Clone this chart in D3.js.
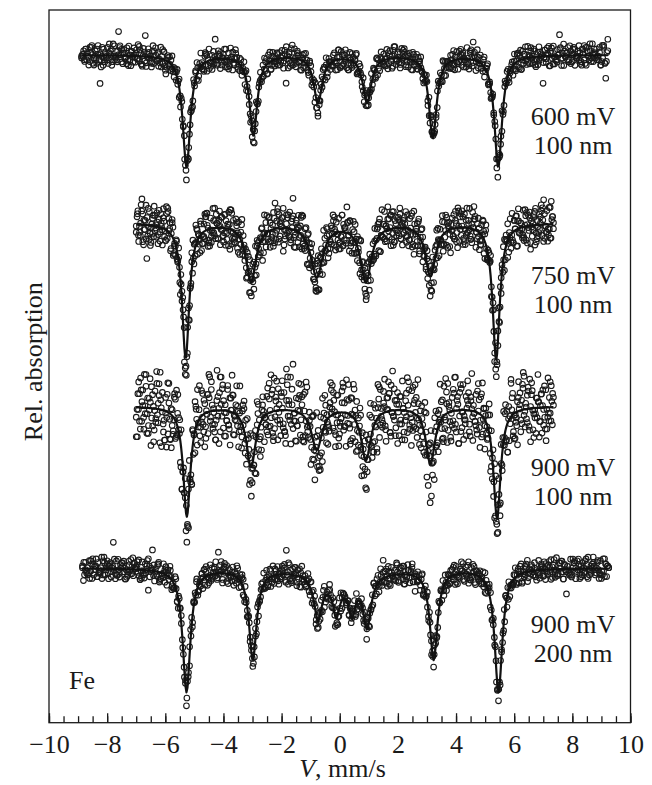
<!DOCTYPE html>
<html>
<head>
<meta charset="utf-8">
<title>Mössbauer spectra</title>
<script src="https://cdn.jsdelivr.net/npm/d3@7/dist/d3.min.js"></script>
<style>
  html, body { margin: 0; padding: 0; background: #fff; }
  svg { display: block; }
  text { font-family: "Liberation Serif", "Times New Roman", serif; fill: #1a1a1a; }
</style>
</head>
<body>
<svg id="chart" width="652" height="785"></svg>
<script>
// ---------------- data ----------------
const majorTicks = [-10, -8, -6, -4, -2, 0, 2, 4, 6, 8, 10];

// Residuals of each channel from the fit, one letter per channel:
// "a".."z" stand for -12.5..+12.5 scatter units (positive = less absorption).
// Two sweeps per spectrum (forward and return half of the velocity drive).

// Spectrum 1: 600 mV, 100 nm
const label600 = ["600 mV", "100 nm"];
const vel600 = [-8.88, 9.22];
const base600 = 93.7;
const pos600 = [-5.27, -2.97, -0.75, 0.94, 3.20, 5.45];
const depth600 = [15.7, 11.2, 6.6, 6.6, 11.6, 15.7];
const width600 = [0.32, 0.32, 0.35, 0.35, 0.32, 0.32];
const unit600 = 0.25;
const sweepA600 = [
  "lnpjqkmhrosilmkqnjpgrhlomkitnqjmslkphrnjoqlmiksnhpjrmoltkqihnpmj",
  "ormkhqjnslpimtokrjfnqlmpskiojrnhmqlptkjoinrmhslqkpjnuomiqrhktljpn",
  "kqmjrohlnpsimkqjtnhlorpkmjqinshrlmokpjqhntmiorlkjspqhmnikrojlqpm",
  "jnrklpmohqisujmnkrplhoqjmsnkirqhlpgmjtnkqlsriphmojnkqrlmhsoijpkn",
  "mqkhrnjplosikmqnjrhptlkomsjqnirhkmpolqjnshkrmoitpjlqnhkmrsojpiql",
  "nhqmkrjopslimknqhrjtpomlkisnqjhrmplokjqnishmrklopjqnmitkhrsjlpom",
  "pjmrknqhlosimjkrnqphltmoikjsnrqhlmpkojnqrishmkpljtonqmjrkhlispon",
  "kmqjrnhpolsimkqnjrhltpmokjsinqrhmlpkojqnsihrmkpltjonqmkrhjlsipon"
].join("");
const sweepB600 = [
  "mmkqoljrnhpisknmqjlrophtkmjnsqiolrhkpmnjqlsoirkhmpnjtqolmkisrhjp",
  "qjlnmokrhspikqmnljorthpmkjsqnilhromkpqjnlsihmorktpjqnlmohskirjmp",
  "lonjqmkhrsipmnkjqlohrtmpkjnsiqlmhorkpjqnmlsihkormptjqnlkmhosirjp",
  "sihokrmptjqnlkmkqnmjlohrpismknjqolhrtmpkjsnqilomhrkpjqnmlhosjirp",
  "pkjqnlmsihonmjqkolhrspimknjqolrhtpmkjsnqilhomrkrpmtjqnlkmohsirjp",
  "hrptmkjsnqilpkmnjqloshrimkjnqlohmorkpjnqlmsihokrpmtjnqlkmohsrijp"
].join("");
const outliers600 = [[-5.27, -1.77], [5.45, -1.47], [-0.75, -1.82], [-7.6, 3.37], [-6.7, 2.95],
  [-4.3, 2.8], [4.6, 2.52], [7.55, 2.95], [9.22, 2.24], [-8.24, -3.93], [-1.84, -3.5], [7.0, -3.79], [9.15, -3.23]];

// Spectrum 2: 750 mV, 100 nm
const label750 = ["750 mV", "100 nm"];
const vel750 = [-7.0, 7.35];
const base750 = 70.1;
const pos750 = [-5.30, -3.05, -0.79, 0.90, 3.12, 5.38];
const depth750 = [18.9, 8.1, 7.4, 8.1, 7.3, 19.1];
const width750 = [0.30, 0.42, 0.50, 0.45, 0.42, 0.30];
const unit750 = 0.43;
const sweepA750 = [
  "kprhmjtnqgloisjmrkhnpqtlmjoksirnhqpmjlktrohnsqimjpklrnhoqtsijmkp",
  "qhnlsjmpktrionhqmjlpkrsonjhqimtlkprojnshmqkilrpjnhotmskqjlrpihnm",
  "lsjqnkphrmotjinlqkshrpmjonqlhtkismrjpnkohqljmsirkpnqthjmolrksipq",
  "rkmhqnjolpsitmkjrnqhplosmjkqinrthlpmokjqnsrhimlkptjonqmkrjhlsipo",
  "ojnqmhrklpsimjkqnrhtlpomkjisnqrhlmpkojnqrishmklptjonqmkrhjlsipoq",
  "mqkrjnhplosikmjqnrhltpmokjsinqrhmlpkojqnsihrmkpltjonqmkrhjlsipon",
  "hnmqkrjpoltsimknqjrhptlomkjisnqrhmplokjqnsihrmklpotjnqmkrhjlsipo",
  "pkmrjqnhlosimkjqnrhptlmokjsinqrhmlpkojnqrshimklptjonqmkrhjlsiopn"
].join("");
const sweepB750 = [
  "mqjknrholtpsigmkjqnrhplomtkjsunqirhlmpkojqnrshgimklptjonqmkrhjls",
  "rshimklptjojpnqmkrhlosgtimkjqnrhpulomkjsinqrhmlpkojqfnnqmkrhjlsi",
  "lptjonqfmkrqmkjnrhlposimtkjqngrhplomkjsinqrhumlpkojqnrshimhjlsik",
  "nkqmrjhlpsoimktjqnrhplgomkjsinqrhmlpkojuqnrshimklptjonqmkrhjlsif",
  "inqrhmlpkojrmjqknhlposimktjqnrhplomkjsignqrshimklptjonuqmkrhjlsp",
  "ptjonqmkrhjlqmkjnrhposimktjqnrhplomkjsinqrhmlpgkojqnrshimklsiupl"
].join("");
const outliers750 = [[-5.30, -1.21], [-3.05, -1.93], [3.12, -2.75], [-0.79, -1.93], [-6.8, 3.63],
  [-5.95, 3.3], [-2.22, 3.63], [-1.62, 4.4], [0.25, 3.63], [1.45, 3.3], [7.0, 3.47], [-6.64, -4.68],
  [3.8, -3.3], [6.56, -3.3]];

// Spectrum 3: 900 mV, 100 nm
const label900a = ["900 mV", "100 nm"];
const vel900a = [-7.0, 7.35];
const base900a = 44.4;
const pos900a = [-5.26, -3.05, -0.79, 0.90, 3.12, 5.41];
const depth900a = [15.4, 8.4, 5.9, 7.4, 8.0, 15.7];
const width900a = [0.30, 0.38, 0.45, 0.40, 0.38, 0.30];
const unit900a = 0.55;
const sweepA900a = [
  "fmqtjhronkvlsgpimudkqnhrjwlotepsmjkfqnrhulgpoimtsjkvqnhrelpmoigj",
  "qumkfrjnhsovlpigtmkqejnrhwplsoimjfkuqnrhvltpgomksjieqnrhmlpukojv",
  "lgqnskrhumpojfitkmqnvrhjelpsogmkitjqnwrhfmlpuksojgqnirhemtlpkvjo",
  "tkmfqjnurhlpgsoimvkjqnerhtlpmwokgjsifnqurhmlkpvtojqnemkrghjlsuip",
  "jeqmukfrnhvlposgimtkjqnwrhfmlpuokgjsiqnevrhtmlkpojfqnurhgmklspio",
  "rmgqkjunhfplvosimektjqnrhwmlpgokjsiufnqrhvmlkeptojgqnmkrhujlsfip",
  "ngmqkrvjhpoeltsimfkjqnurhgpwlomkjisnqerhvmplokjqnsfihrmuklpotjgn",
  "kpumrjqfnhlvosimgkjeqnrhptwlmokjsiunqrhfmlpkvojnqgrishemklptjoqn"
].join("");
const sweepB900a = [
  "kfmqujrhnvlgposiemktjqwnrhfmlupgokjsivqnrhemltpkgojfqnurhmvklsip",
  "gmrqkujnhfplevosimgktjqnwrhmlpfokjsuinqrhvmlkgeptojfqnmkrhujlsgi",
  "qnfmkrujhgpvolesimkfjqnurhgtwlmokjsienqrhfmvplkogjqnusihrmeklptj",
  "mvkqjgrnuhflposeimktjqnwrhgmlfpukojsvinqrhtmlkgpeojqfnmkrhujlsip",
  "ujmqgkrnhvplfoseimtkjqnwrhgmlpuokfjsivnqerhmtlkgpojqnfmkrhujlsip",
  "fqmkujrnhgvlpoesimktjfqnwrhgmlpuokjsvinqrhetmlkgpofjqnmkrhujlsip"
].join("");
const outliers900a = [[-3.05, -4.08], [0.90, -3.85], [0.83, -2.77], [3.12, -5.39], [5.41, -2.08],
  [5.44, -2.54], [-0.77, -2.46], [-6.12, -5.16], [-5.95, -5.0], [-5.78, -4.62], [-4.23, 5.62],
  [-1.62, 6.55], [-1.82, 5.78], [1.82, 5.54], [-4.46, 4.85], [-2.25, 4.62], [3.63, 5.0]];

// Spectrum 4: 900 mV, 200 nm (sextet + central doublet and broad singlet)
const label900b = ["900 mV", "200 nm"];
const vel900b = [-8.85, 9.25];
const base900b = 21.7;
const pos900b = [-5.27, -2.99, -0.75, -0.12, 0.42, 0.94, 3.23, 5.46, 0.10];
const depth900b = [17.3, 12.6, 5.9, 4.2, 4.2, 7.0, 12.6, 17.3, 2.2];
const width900b = [0.32, 0.32, 0.32, 0.26, 0.26, 0.32, 0.32, 0.32, 1.8];
const unit900b = 0.25;
const sweepA900b = [
  "omjqlnkhrpsjmoiqklnhrtjmpkoqinlshrjmkpqolnhijrmsktqnopljhmrkiqns",
  "jpmnrkholqsijmknprhqltojmksnihqprlmjokqnhsriplmtkjnoqhripmlksjqn",
  "qlnkjmrohpsqinkmljrhpotmnqksijrlhmpoqnkjsirhmlqptknojmrhlsiqpkjn",
  "nkrmqjlohspikmrnjqlhptomkjnsqirhlmokpjqnrishmlkptojqnmrkhjlsiqpo",
  "lmpjqkrnohsimlkqnjrphtlomkisjnqrhmplokqjnsihrmkpltojqnmkrhjlspio",
  "rjmqnklphosimqnkjrlhpmtokjsnqirhlmkpojnqrshimlkptojnqmrhkjlsoipn",
  "mkqjnrlhpomsikjqnrhlmptokjisnqrhmlkpojnqirshmklptjonqmkrjhlsiopn",
  "jnqmkrlhopsimjknqrlhpmtokjsinqrhlmpkojqnrsihmlkptojnqmkrhjlspion"
].join("");
const sweepB900b = [
  "nqmkjrlhposimktjqnrhplomkjsinqrhmlpkojqnrshimklptjonqmkrhjlsipon",
  "rhjlsiponkmqjnrlhopsimkqnrshimklptjontjqnrhplomkjsinqrhmlpkojqnm",
  "plomkjsinqjmknrhlposimtkjqnrhqrhmlpkojqnrshimklptjonqmkrhjlsiopn",
  "kojqnrshimkmkjqnrhlpsoimktjqnrhplomkjsinqrhmlplptjonqmkrhjlsipon",
  "ptjonqmkrhjjqmknrhlposimktjqnrhplomkjsinqrhmlpkojqnrshimkllsipno",
  "inqrhmlpkojnmkqjrhlposimktjqnrhplomkjsqnrshimklptjonqmkrhjlsipon"
].join("");
const outliers900b = [[-5.27, -1.89], [3.23, -0.97], [5.46, -1.18], [-7.77, 3.74], [-1.84, 3.36],
  [1.5, 2.56], [-6.45, 2.94], [-4.18, 2.94], [7.8, -3.49], [-6.6, -2.77], [-8.82, -1.68], [2.6, -2.1]];

// ---------------- layout ----------------
const plot = { left: 49, right: 630.5, top: 10, bottom: 722.7 };
const labelX = 573;
const labelBaselines = [[124.5, 153.5], [284, 313], [476, 505], [633, 662]];
const ink = "#1a1a1a";

const zipLines = (p, d, w) => p.map((v, i) => ({ pos: v, depth: d[i], width: w[i] }));
const spectra = [
  { label: label600, range: vel600, base: base600, lines: zipLines(pos600, depth600, width600), sweeps: [sweepA600, sweepB600], unit: unit600, outliers: outliers600 },
  { label: label750, range: vel750, base: base750, lines: zipLines(pos750, depth750, width750), sweeps: [sweepA750, sweepB750], unit: unit750, outliers: outliers750 },
  { label: label900a, range: vel900a, base: base900a, lines: zipLines(pos900a, depth900a, width900a), sweeps: [sweepA900a, sweepB900a], unit: unit900a, outliers: outliers900a },
  { label: label900b, range: vel900b, base: base900b, lines: zipLines(pos900b, depth900b, width900b), sweeps: [sweepA900b, sweepB900b], unit: unit900b, outliers: outliers900b }
];

// letter code -> scatter units
const decode = ch => (ch.charCodeAt(0) - 97) - 12.5;

// sum of Lorentzian absorption lines
function absorption(v, lines) {
  return d3.sum(lines, l => l.depth / (1 + Math.pow((v - l.pos) / (l.width / 2), 2)));
}

// channel velocities, fitted curve and measured points of one sweep
function sweepPoints(s, codes, withOutliers) {
  const n = codes.length;
  const dv = (s.range[1] - s.range[0]) / (n - 1);
  const res = Array.from(codes, ch => decode(ch) * s.unit);
  if (withOutliers) {
    s.outliers.forEach(([vo, val]) => {
      const i = Math.round((vo - s.range[0]) / dv);
      if (i >= 0 && i < n) res[i] = val;
    });
  }
  return res.map((e, i) => {
    const v = s.range[0] + i * dv;
    const f = s.base - absorption(v, s.lines);
    return { v, fit: f, y: f + e };
  });
}

// ---------------- drawing ----------------
const svg = d3.select("#chart");
const x = d3.scaleLinear().domain([-10, 10]).range([plot.left, plot.right]);
const y = d3.scaleLinear().domain([0, 100]).range([plot.bottom, plot.top]);

// minor ticks every 0.5 mm/s
svg.append("g")
  .attr("transform", `translate(0,${plot.bottom})`)
  .call(d3.axisBottom(x).tickValues(d3.range(-10, 10.001, 0.5)).tickSizeInner(-6.5).tickSizeOuter(0).tickFormat(""))
  .call(g => g.select(".domain").remove())
  .call(g => g.selectAll("line").attr("stroke", ink).attr("stroke-width", 1.3));

// major ticks with labels
svg.append("g")
  .attr("transform", `translate(0,${plot.bottom})`)
  .call(d3.axisBottom(x).tickValues(majorTicks).tickSizeInner(-9.5).tickSizeOuter(0).tickPadding(0).tickFormat(d3.format("d")))
  .call(g => g.select(".domain").remove())
  .call(g => g.selectAll("line").attr("stroke", ink).attr("stroke-width", 1.3))
  .call(g => g.selectAll("text").attr("y", 30.6).attr("dy", null).style("font-size", "26px"));

// frame
svg.append("rect")
  .attr("x", x(-10)).attr("y", y(100))
  .attr("width", x(10) - x(-10)).attr("height", y(0) - y(100))
  .attr("fill", "none").attr("stroke", ink).attr("stroke-width", 1.3);

const line = d3.line().x(d => x(d.v)).y(d => y(d.fit));

spectra.forEach((s, k) => {
  const a = sweepPoints(s, s.sweeps[0], true);
  const b = sweepPoints(s, s.sweeps[1], false);
  const pts = a.concat(b);

  const g = svg.append("g");
  g.selectAll("circle").data(pts).join("circle")
    .attr("cx", d => x(d.v)).attr("cy", d => y(d.y)).attr("r", 2.8)
    .attr("fill", "none").attr("stroke", ink).attr("stroke-width", 1.1);
  g.append("path").datum(a)
    .attr("d", line).attr("fill", "none").attr("stroke", "#111")
    .attr("stroke-width", 2.2).attr("stroke-linejoin", "round");

  s.label.forEach((t, j) => {
    svg.append("text").attr("x", labelX).attr("y", labelBaselines[k][j])
      .attr("text-anchor", "middle").style("font-size", "26px").text(t);
  });
});

// sample element
svg.append("text").attr("x", 69).attr("y", 689).style("font-size", "26px").text("Fe");

// axis titles
const xt = svg.append("text").attr("x", 342.5).attr("y", 777)
  .attr("text-anchor", "middle").style("font-size", "26px");
xt.append("tspan").style("font-style", "italic").text("V");
xt.append("tspan").text(", mm/s");

svg.append("text")
  .attr("transform", "translate(42,361.7) rotate(-90)")
  .attr("text-anchor", "middle").style("font-size", "26px")
  .text("Rel. absorption");
</script>
</body>
</html>
